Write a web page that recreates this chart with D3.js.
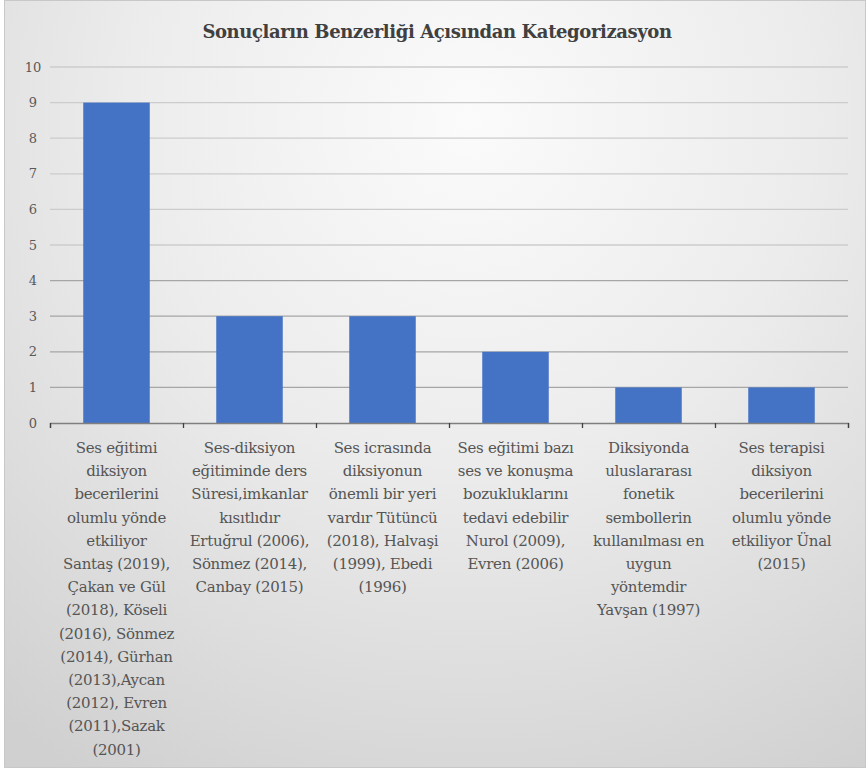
<!DOCTYPE html>
<html><head><meta charset="utf-8">
<script src="https://cdn.jsdelivr.net/npm/d3@7"></script>
<style>html,body{margin:0;padding:0;background:#fff;}svg{display:block;}</style>
</head><body>
<script>
const title = "Sonuçların Benzerliği Açısından Kategorizasyon";
const categories = [
  ["Ses eğitimi","diksiyon","becerilerini","olumlu yönde","etkiliyor","Santaş (2019),","Çakan ve Gül","(2018), Köseli","(2016), Sönmez","(2014), Gürhan","(2013),Aycan","(2012), Evren","(2011),Sazak","(2001)"],
  ["Ses-diksiyon","eğitiminde ders","Süresi,imkanlar","kısıtlıdır","Ertuğrul (2006),","Sönmez (2014),","Canbay (2015)"],
  ["Ses icrasında","diksiyonun","önemli bir yeri","vardır Tütüncü","(2018), Halvaşi","(1999), Ebedi","(1996)"],
  ["Ses eğitimi bazı","ses ve konuşma","bozukluklarını","tedavi edebilir","Nurol (2009),","Evren (2006)"],
  ["Diksiyonda","uluslararası","fonetik","sembollerin","kullanılması en","uygun","yöntemdir","Yavşan (1997)"],
  ["Ses terapisi","diksiyon","becerilerini","olumlu yönde","etkiliyor Ünal","(2015)"]
];
const values = [9, 3, 3, 2, 1, 1];
const yTicks = [0,1,2,3,4,5,6,7,8,9,10];

const W = 867, H = 775;
const m = {left: 50, right: 19, top: 67, bottom: 352};
const FONT = "'DejaVu Serif', serif";
const svg = d3.select("body").append("svg").attr("width", W).attr("height", H);

const defs = svg.append("defs");
const rg = defs.append("radialGradient").attr("id","bg")
  .attr("gradientUnits","userSpaceOnUse")
  .attr("cx", 470).attr("cy", 120).attr("r", 760);
rg.append("stop").attr("offset","0%").attr("stop-color","#fbfbfb");
rg.append("stop").attr("offset","45%").attr("stop-color","#ececec");
rg.append("stop").attr("offset","100%").attr("stop-color","#d0d0d0");

svg.append("rect").attr("x",4.5).attr("y",0.5).attr("width",W-6).attr("height",767)
  .attr("fill","url(#bg)").attr("stroke","#c8c8c8").attr("stroke-width",1);

const x = d3.scaleBand().domain(d3.range(categories.length))
  .range([m.left, W - m.right]).paddingInner(0.5).paddingOuter(0.25);
const y = d3.scaleLinear().domain([0, 10]).range([H - m.bottom, m.top]);

// gridlines
svg.append("g").selectAll("line").data(yTicks.filter(d => d > 0)).join("line")
  .attr("x1", m.left).attr("x2", W - m.right)
  .attr("y1", d => y(d)).attr("y2", d => y(d))
  .attr("stroke", d => d <= 4 ? "#a6a6a6" : "#cccccc").attr("stroke-width", 1.3);

// y labels
svg.append("g").selectAll("text").data(yTicks).join("text")
  .attr("x", 33).attr("y", d => y(d)).attr("dy","0.35em")
  .attr("text-anchor","middle")
  .attr("font-family",FONT).attr("font-size",13)
  .attr("fill","#595959").text(d => d);

// bars
svg.append("g").selectAll("rect").data(values).join("rect")
  .attr("x", (d,i) => x(i)).attr("width", x.bandwidth())
  .attr("y", d => y(d)).attr("height", d => y(0) - y(d))
  .attr("fill", "#4472c4");

// x axis
const xAxis = d3.axisBottom(d3.scaleLinear().domain([0, categories.length]).range([m.left, W - m.right]))
  .tickValues(d3.range(categories.length + 1)).tickSize(5).tickFormat("");
const ax = svg.append("g").attr("transform", `translate(0,${y(0)})`).call(xAxis);
ax.select(".domain").attr("stroke","#7f7f7f").attr("stroke-width",1.3);
ax.selectAll(".tick line").attr("stroke","#404040").attr("stroke-width",1.3);

// category labels
const lab = svg.append("g");
categories.forEach((lines, i) => {
  const cx = x(i) + x.bandwidth()/2;
  const t = lab.append("text")
    .attr("x", cx).attr("y", 453)
    .attr("text-anchor","middle")
    .attr("font-family",FONT).attr("font-size",15).attr("letter-spacing",-0.3)
    .attr("fill","#555555");
  lines.forEach((l, j) => t.append("tspan").attr("x", cx).attr("dy", j ? 23.2 : 0).text(l));
});

// title
svg.append("text").attr("x", 437).attr("y", 38).attr("text-anchor","middle")
  .attr("font-family",FONT).attr("font-weight","bold").attr("font-size",18).attr("letter-spacing",-0.4)
  .attr("fill","#404040").text(title);
</script>
</body></html>
